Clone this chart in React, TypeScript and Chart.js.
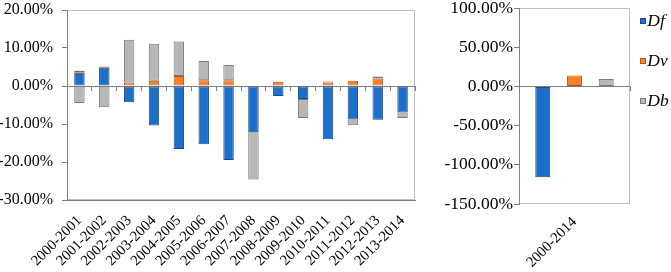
import React, { useEffect, useRef } from 'react';
import { Chart, registerables } from 'chart.js';

Chart.register(...registerables);

// ---- data ----
const periods = [
  '2000-2001', '2001-2002', '2002-2003', '2003-2004', '2004-2005', '2005-2006', '2006-2007',
  '2007-2008', '2008-2009', '2009-2010', '2010-2011', '2011-2012', '2012-2013', '2013-2014',
];
const dfValues = [3.5, 4.8, -4.3, -10.4, -16.6, -15.3, -19.5, -12.2, -2.6, -3.4, -14.0, -8.8, -8.9, -7.0];
const dvValues = [0.5, 0.3, 0.9, 1.4, 2.6, 1.5, 1.5, 0, 1.1, 0, 0.9, 1.4, 2.0, 0];
const dbValues = [-4.5, -5.6, 11.3, 9.7, 9.1, 5.1, 4.0, -12.4, 0, -5.0, 0.3, -1.5, 0.5, -1.4];

const totalLabels = ['2000-2014'];
const dfTotal = [-116];
const dvTotal = [14];
const dbTotal = [9.4];

const leftTickValues = [-30, -20, -10, 0, 10, 20];
const rightTickValues = [-150, -100, -50, 0, 50, 100];
const seriesNames = ['Df', 'Dv', 'Db'];

// ---- styles ----
const FONT = "'Liberation Serif', 'Times New Roman', Times, 'DejaVu Serif', serif";
const AXIS = '#7f7f7f';
const FRAME = '#c0c0c0';
const FILLS = ['#1c6fcb', '#ff7f27', '#b7b7b7'];
const EDGES = ['#1a4a80', '#b0561a', '#7a7a7a'];

const pct = (v: number | string) => Number(v).toFixed(2) + '%';

const framePlugin = {
  id: 'frame',
  beforeDraw(chart: any) {
    const { ctx, chartArea } = chart;
    if (!chartArea) return;
    ctx.save();
    ctx.strokeStyle = FRAME;
    ctx.lineWidth = 1;
    const l = Math.round(chartArea.left) + 0.5;
    const t = Math.round(chartArea.top) + 0.5;
    const r = Math.round(chartArea.right) - 0.5;
    const b = Math.round(chartArea.bottom) - 0.5;
    ctx.strokeRect(l, t, r - l, b - t);
    ctx.restore();
  },
};

// small legend swatch, drawn right of its anchor so the label sits close to it
function makeSwatch(fill: string, edge: string) {
  const c = document.createElement('canvas');
  c.width = 20;
  c.height = 6;
  const g = c.getContext('2d') as CanvasRenderingContext2D;
  g.fillStyle = edge;
  g.fillRect(12, 0, 6, 6);
  g.fillStyle = fill;
  g.fillRect(13, 1, 4, 4);
  return c;
}

function makeDatasets(values: number[][]) {
  return values.map((data, i) => ({
    label: seriesNames[i],
    data,
    backgroundColor: FILLS[i],
    borderColor: EDGES[i],
    borderWidth: 1,
    borderSkipped: false as const,
  }));
}

function zeroAxis() {
  return {
    type: 'category' as const,
    position: { y: 0 },
    offset: true,
    grid: { offset: true, drawOnChartArea: false, drawTicks: true, tickLength: 4, color: AXIS, lineWidth: 1 },
    border: { display: true, color: AXIS, width: 1 },
    ticks: { display: false },
    afterFit: (s: any) => { s.paddingLeft = 0; s.paddingRight = 0; s.paddingTop = 0; s.paddingBottom = 0; },
  };
}

export default function App() {
  const leftRef = useRef<HTMLCanvasElement | null>(null);
  const rightRef = useRef<HTMLCanvasElement | null>(null);

  useEffect(() => {
    const swatches = FILLS.map((f, i) => makeSwatch(f, EDGES[i]));

    const left = new Chart(leftRef.current as HTMLCanvasElement, {
      type: 'bar',
      data: { labels: periods, datasets: makeDatasets([dfValues, dvValues, dbValues]) as any },
      options: {
        animation: false,
        responsive: false,
        layout: { padding: { left: 0, right: 15, top: 0, bottom: 0 } },
        datasets: { bar: { categoryPercentage: 0.42, barPercentage: 1 } },
        plugins: { legend: { display: false }, tooltip: { enabled: false } },
        scales: {
          x: {
            stacked: true,
            grid: { display: false, drawTicks: false },
            border: { display: true, color: AXIS, width: 1 },
            ticks: {
              minRotation: 45, maxRotation: 45, autoSkip: false, padding: 12, color: '#000',
              font: { family: FONT, size: 14.8 },
            },
            afterFit: (s: any) => { s.height = 72; s.paddingLeft = 0; s.paddingRight = 0; },
          },
          x2: zeroAxis() as any,
          y: {
            stacked: true,
            min: leftTickValues[0],
            max: leftTickValues[leftTickValues.length - 1],
            ticks: {
              stepSize: leftTickValues[1] - leftTickValues[0], callback: pct, padding: 9, color: '#000',
              font: { family: FONT, size: 16 },
            },
            grid: { drawOnChartArea: false, drawTicks: true, tickLength: 5, color: AXIS },
            border: { display: true, color: AXIS, width: 1 },
            afterFit: (s: any) => { s.width = 67; s.paddingTop = 10; s.paddingBottom = 0; },
          },
        },
      },
      plugins: [framePlugin],
    });

    const right = new Chart(rightRef.current as HTMLCanvasElement, {
      type: 'bar',
      data: { labels: totalLabels, datasets: makeDatasets([dfTotal, dvTotal, dbTotal]) as any },
      options: {
        animation: false,
        responsive: false,
        layout: { padding: { left: 0, right: 0, top: 4.75, bottom: 0 } },
        datasets: { bar: { categoryPercentage: 0.858, barPercentage: 0.47 } },
        plugins: {
          tooltip: { enabled: false },
          legend: {
            display: true,
            position: 'right',
            align: 'start',
            maxWidth: 41,
            labels: {
              usePointStyle: true,
              boxWidth: 1,
              boxHeight: 6,
              padding: 7.5,
              color: '#000',
              font: { family: FONT, size: 17.5, style: 'italic', lineHeight: 0.92857 },
              generateLabels: (chart: any) =>
                (Chart.defaults.plugins.legend.labels.generateLabels as any)(chart).map((l: any, i: number) => ({
                  ...l,
                  pointStyle: swatches[i],
                  rotation: 0,
                  text: [l.text, ''],
                })),
            },
          },
        },
        scales: {
          x: {
            grid: { display: false, drawTicks: false },
            border: { display: false },
            ticks: {
              minRotation: 45, maxRotation: 45, autoSkip: false, padding: 9.5, color: '#000',
              font: { family: FONT, size: 14.8 },
            },
            afterFit: (s: any) => { s.height = 68; s.paddingLeft = 0; s.paddingRight = 0; },
          },
          x2: zeroAxis() as any,
          y: {
            min: rightTickValues[0],
            max: rightTickValues[rightTickValues.length - 1],
            ticks: {
              stepSize: rightTickValues[1] - rightTickValues[0], callback: pct, padding: 1, color: '#000',
              font: { family: FONT, size: 17.5 },
            },
            grid: { drawOnChartArea: false, drawTicks: true, tickLength: 5, color: AXIS },
            border: { display: true, color: AXIS, width: 1 },
            afterFit: (s: any) => { s.width = 79; s.paddingTop = 8; s.paddingBottom = 0; },
          },
        },
      },
      plugins: [framePlugin],
    });

    return () => {
      left.destroy();
      right.destroy();
    };
  }, []);

  return (
    <div style={{ position: 'absolute', left: 0, top: 0, width: 671, height: 272, background: '#fff' }}>
      <canvas ref={leftRef} width={430} height={272} style={{ position: 'absolute', left: 0, top: 0 }} />
      <canvas ref={rightRef} width={231} height={272} style={{ position: 'absolute', left: 440, top: 0 }} />
    </div>
  );
}
